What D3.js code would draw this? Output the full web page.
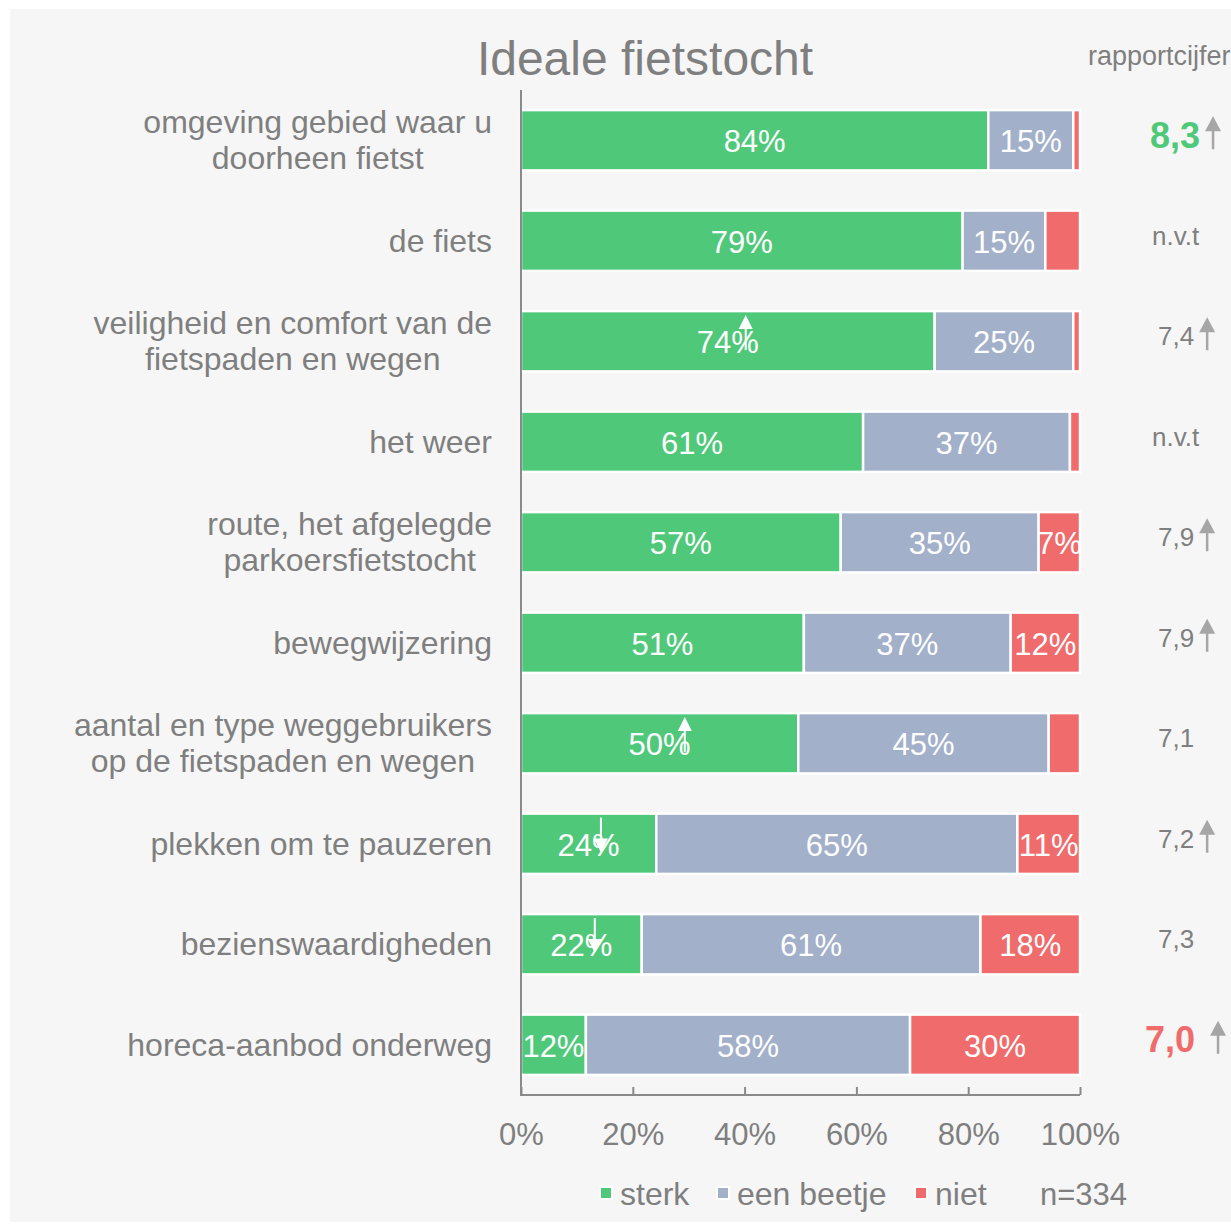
<!DOCTYPE html>
<html><head><meta charset="utf-8">
<script src="https://cdn.jsdelivr.net/npm/d3@7"></script>
<style>body{margin:0;background:#fff}svg{display:block;font-family:"Liberation Sans",Arial,sans-serif}</style>
</head><body><svg id="c" width="1231" height="1225"></svg>
<script>
const categories = [
  ["omgeving gebied waar u","doorheen fietst"],
  ["de fiets"],
  ["veiligheid en comfort van de","fietspaden en wegen"],
  ["het weer"],
  ["route, het afgelegde","parkoersfietstocht"],
  ["bewegwijzering"],
  ["aantal en type weggebruikers","op de fietspaden en wegen"],
  ["plekken om te pauzeren"],
  ["bezienswaardigheden"],
  ["horeca-aanbod onderweg"]
];
const seriesNames = ["sterk","een beetje","niet"];
const sterk     = [83.6,79.0,74.0,61.2,57.2,50.6,49.6,24.2,21.6,11.6];
const eenBeetje = [15.2,14.8,24.8,37.0,35.4,37.0,44.8,64.6,60.6,58.0];
const niet      = [1.2, 6.2, 1.2, 1.8, 7.4,12.4, 5.6,11.2,17.8,30.4];
const grades      = ["8,3","n.v.t","7,4","n.v.t","7,9","7,9","7,1","7,2","7,3","7,0"];
const gradeTrend  = ["up",null,"up",null,"up","up",null,"up",null,"up"];
const gradeMark   = ["best",null,null,null,null,null,null,null,null,"worst"];
const sterkTrendRow = [2,6,7,8];
const sterkTrendAt  = [40.2,29.3,14.3,13.2];
const sterkTrendDir = ["up","up","down","down"];
const xTicks = [0,20,40,60,80,100];
const title = "Ideale fietstocht";
const gradeTitle = "rapportcijfer";
const nLabel = "n=334";

const colors = ["#4fc87a","#a2b0ca","#f06b6b"];
const textGray = "#7f7f7f";
const svg = d3.select("#c");
svg.append("rect").attr("x",10).attr("y",9).attr("width",1221).attr("height",1213).attr("fill","#f6f6f6");

const x = d3.scaleLinear().domain([0,100]).range([521,1080]);
const y = d3.scaleBand().domain(d3.range(categories.length)).range([90,1095]).paddingInner(0.4).paddingOuter(0.2);

svg.append("text").attr("x",645).attr("y",75).attr("text-anchor","middle")
  .attr("font-size",48).attr("fill",textGray).text(title);
svg.append("text").attr("x",1088).attr("y",65).attr("font-size",27).attr("fill",textGray).text(gradeTitle);

const rows = categories.map((c,i)=>({i, vals:[sterk[i],eenBeetje[i],niet[i]]}));
const stack = d3.stack().keys([0,1,2]).value((d,k)=>d.vals[k]);
const stacked = stack(rows);

const defs = svg.append("defs");
stacked.forEach((layer,k)=>{
  layer.forEach((seg,i)=>{
    const x0 = x(seg[0]), x1 = x(seg[1]);
    const id = "cl"+k+"_"+i;
    defs.append("clipPath").attr("id",id).append("rect")
      .attr("x",x0).attr("y",y(i)).attr("width",x1-x0).attr("height",y.bandwidth());
    svg.append("rect").attr("x",x0).attr("y",y(i)).attr("width",x1-x0).attr("height",y.bandwidth())
      .attr("fill",colors[k]).attr("stroke","#fff").attr("stroke-width",2.5);
    const v = seg.data.vals[k];
    if (Math.round(v) >= 7) {
      svg.append("text").attr("clip-path","url(#"+id+")")
        .attr("x",(x0+x1)/2).attr("y",y(i)+y.bandwidth()/2+12)
        .attr("text-anchor","middle").attr("font-size",31).attr("fill","#fff")
        .text(Math.round(v)+"%");
    }
  });
});

function arrow(g, cx, top, len, dir, color, sw, hw, hh){
  if (dir==="up"){
    g.append("line").attr("x1",cx).attr("x2",cx).attr("y1",top+hh-1).attr("y2",top+len).attr("stroke",color).attr("stroke-width",sw);
    g.append("path").attr("d",`M${cx},${top}L${cx-hw/2},${top+hh}L${cx+hw/2},${top+hh}Z`).attr("fill",color);
  } else {
    const b = top+len;
    g.append("line").attr("x1",cx).attr("x2",cx).attr("y1",top).attr("y2",b-hh+1).attr("stroke",color).attr("stroke-width",sw);
    g.append("path").attr("d",`M${cx},${b}L${cx-hw/2},${b-hh}L${cx+hw/2},${b-hh}Z`).attr("fill",color);
  }
}
sterkTrendRow.forEach((r,j)=>{
  arrow(svg, x(sterkTrendAt[j]), y(r)+4, 35, sterkTrendDir[j], "#fff", 2, 14, 14);
});

svg.append("line").attr("x1",521).attr("x2",521).attr("y1",90).attr("y2",1096).attr("stroke","#8a8a8a").attr("stroke-width",2);
const ax = svg.append("g").attr("transform","translate(0,1095)")
  .call(d3.axisBottom(x).tickValues(xTicks).tickSize(-8).tickFormat(d=>d+"%"));
ax.select(".domain").attr("stroke","#8a8a8a").attr("stroke-width",2).attr("d","M521,0H1080");
ax.selectAll(".tick line").attr("stroke","#8a8a8a").attr("stroke-width",2);
ax.selectAll(".tick text").attr("font-size",31).attr("fill",textGray).attr("y",28).attr("dy","0.71em")
  .attr("font-family","Liberation Sans, Arial, sans-serif");

categories.forEach((lines,i)=>{
  const cy = y(i)+y.bandwidth()/2;
  const g = svg.append("g");
  const lh = 36;
  const ts = lines.map((l,j)=>g.append("text").attr("font-size",32).attr("fill",textGray)
      .attr("y",cy + (j-(lines.length-1)/2)*lh + 11).text(l));
  const maxW = d3.max(ts, t=>t.node().getComputedTextLength());
  const center = 492 - maxW/2;
  ts.forEach(t=>t.attr("x",center).attr("text-anchor","middle"));
});

grades.forEach((gr,i)=>{
  const cy = y(i)+y.bandwidth()/2;
  const mark = gradeMark[i];
  const t = svg.append("text").attr("y",cy-5).attr("dominant-baseline","central").text(gr);
  if (mark==="best"){ t.attr("x",1150).attr("font-size",36).attr("font-weight","bold").attr("fill",colors[0]); }
  else if (mark==="worst"){ t.attr("x",1145).attr("font-size",36).attr("font-weight","bold").attr("fill",colors[2]); }
  else { t.attr("x", gr==="n.v.t"?1152:1158).attr("font-size",26).attr("fill",textGray); }
  if (gradeTrend[i]==="up"){
    const end = +t.attr("x") + t.node().getComputedTextLength();
    const gap = mark==="worst" ? 23 : 13;
    arrow(svg, end+gap, cy-24, 33, "up", "#a6a6a6", 2.5, 16, 15);
  }
});

const legX = [600,717,915];
const legend = svg.append("g");
seriesNames.forEach((n,k)=>{
  legend.append("rect").attr("x",legX[k]).attr("y",1187).attr("width",12).attr("height",12)
    .attr("fill",colors[k]).attr("stroke","#fff").attr("stroke-width",2);
  legend.append("text").attr("x",legX[k]+20).attr("y",1205).attr("font-size",32).attr("fill",textGray).text(n);
});
svg.append("text").attr("x",1040).attr("y",1205).attr("font-size",31).attr("fill",textGray).text(nLabel);
</script></body></html>
